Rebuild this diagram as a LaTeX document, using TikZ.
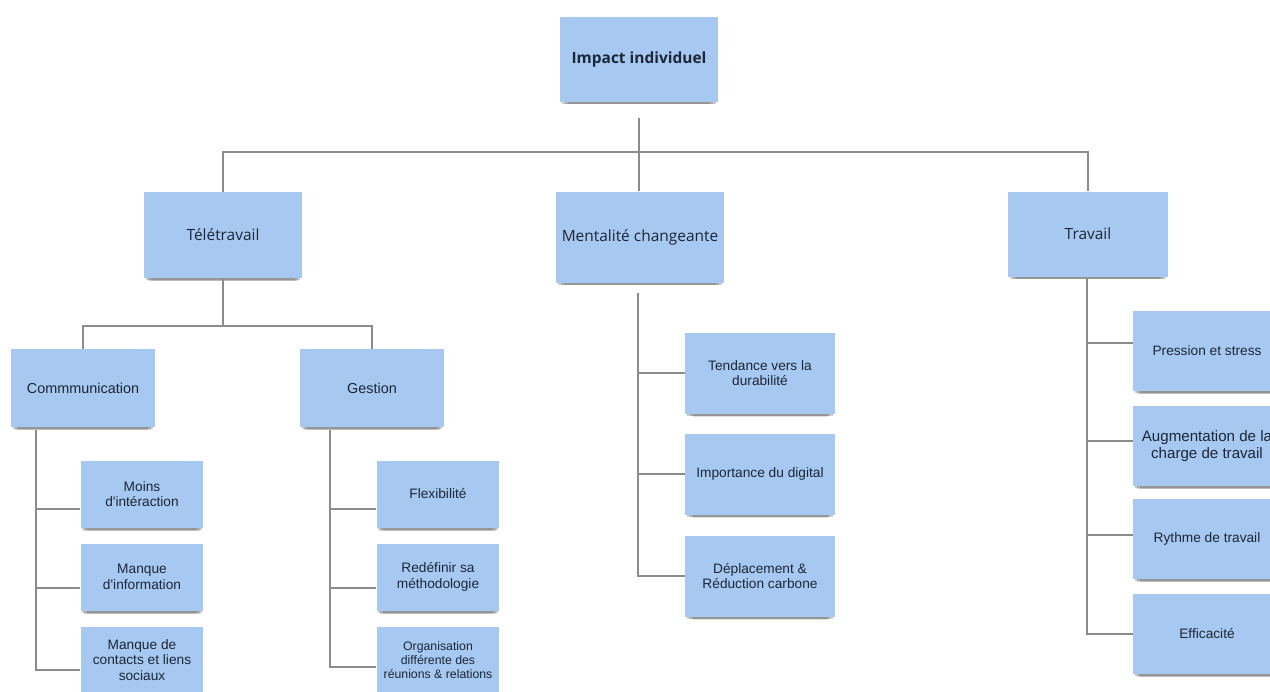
\documentclass[tikz,border=0pt]{standalone}
\usepackage{fontspec}
\setmainfont{Liberation Sans}
\newfontfamily\opensans{Open Sans}
\usetikzlibrary{shadows}
\definecolor{notefill}{HTML}{A7C9F1}
\definecolor{notetext}{HTML}{1B2638}
\definecolor{linkgray}{HTML}{8C8C8C}

\begin{document}
\begin{tikzpicture}[x=0.02cm, y=-0.02cm,
	note/.style={fill=notefill, text=notetext, align=center, inner sep=1pt,
		drop shadow={shadow xshift=0pt, shadow yshift=-4.5pt, shadow scale=0.9, opacity=0.12, fill=black},
		drop shadow={shadow xshift=0pt, shadow yshift=-3.2pt, shadow scale=0.94, opacity=0.16, fill=black},
		drop shadow={shadow xshift=0pt, shadow yshift=-2pt, shadow scale=0.97, opacity=0.2, fill=black}},
	head/.style={note, font=\opensans\fontsize{8.8}{10.5}\selectfont, minimum width=3.18cm, minimum height=1.72cm},
	sub/.style={note, font=\fontsize{8.2}{9.5}\selectfont, minimum width=2.9cm, minimum height=1.56cm},
	leaf/.style={note, font=\fontsize{7.8}{8.8}\selectfont, minimum width=2.46cm, minimum height=1.34cm},
	wide/.style={leaf, minimum width=3cm, minimum height=1.62cm},
	link/.style={draw=linkgray, line width=0.75pt}]
	\useasboundingbox (0,0) rectangle (1270,691);
	\clip (0,0) rectangle (1270,691);
	%
	\node [head, font=\opensans\bfseries\fontsize{8.8}{10}\selectfont, minimum width=3.16cm, minimum height=1.7cm] (imp) at (639,59) {Impact individuel};
	\node [head] (tele) at (223,235) {Télétravail};
	\node [head, minimum width=3.38cm, minimum height=1.82cm] (ment) at (640,237) {Mentalité changeante};
	\node [head, minimum width=3.2cm, minimum height=1.7cm] (trav) at (1088,234) {Travail};
	%
	\node [sub] (comm) at (83,388) {Commmunication};
	\node [sub] (gest) at (372,388) {Gestion};
	%
	\node [leaf] (moins) at (142,494) {Moins\\d\textquotesingle intéraction};
	\node [leaf] (info) at (142,577) {Manque\\d\textquotesingle information};
	\node [leaf] (contacts) at (142,660) {Manque de\\contacts et liens\\sociaux};
	\node [leaf] (flex) at (438,494) {Flexibilité};
	\node [leaf] (redef) at (438,577) {Redéfinir sa\\méthodologie};
	\node [leaf, font=\fontsize{7}{7.9}\selectfont] (orga) at (438,660) {Organisation\\différente des\\réunions \& relations};
	%
	\node [wide] (tend) at (760,373) {Tendance vers la\\durabilité};
	\node [wide] (digi) at (760,474) {Importance du digital};
	\node [wide] (depl) at (760,576) {Déplacement \&\\Réduction carbone};
	%
	\node [wide, minimum width=2.96cm, minimum height=1.6cm] (press) at (1207,351) {Pression et stress};
	\node [wide, minimum width=2.96cm, minimum height=1.6cm, font=\fontsize{8.6}{9.4}\selectfont] (augm) at (1207,446) {Augmentation de la\\charge de travail};
	\node [wide, minimum width=2.96cm, minimum height=1.6cm] (rythme) at (1207,539) {Rythme de travail};
	\node [wide, minimum width=2.96cm, minimum height=1.6cm] (effic) at (1207,634) {Efficacité};
	%
	\coordinate (ti) at (639,118);
	\coordinate (j0) at (639,152);
	\coordinate (j1) at (223,326);
	\coordinate (tc) at (36,430);
	\coordinate (tg) at (330,430);
	\coordinate (tm) at (638,293);
	\coordinate (tt) at (1087,278);
	%
	\draw [link] (ti) -- (ti |- ment.north);
	\draw [link] (tele.north) |- (j0) -| (trav.north);
	\draw [link] (tele.south) -- (j1);
	\draw [link] (comm.north) |- (j1) -| (gest.north);
	%
	\draw [link] (tc) |- ([yshift=-8.5pt]moins.west);
	\draw [link] (tc) |- ([yshift=-6.2pt]info.west);
	\draw [link] (tc) |- ([yshift=-5.7pt]contacts.west);
	\draw [link] (tg) |- ([yshift=-8.5pt]flex.west);
	\draw [link] (tg) |- ([yshift=-6.2pt]redef.west);
	\draw [link] (tg) |- ([yshift=-4pt]orga.west);
	%
	\draw [link] (tm) |- (tend.west);
	\draw [link] (tm) |- (digi.west);
	\draw [link] (tm) |- (depl.west);
	%
	\draw [link] (tt) |- ([yshift=4.5pt]press.west);
	\draw [link] (tt) |- ([yshift=2.8pt]augm.west);
	\draw [link] (tt) |- ([yshift=2.3pt]rythme.west);
	\draw [link] (tt) |- (effic.west);
\end{tikzpicture}
\end{document}
